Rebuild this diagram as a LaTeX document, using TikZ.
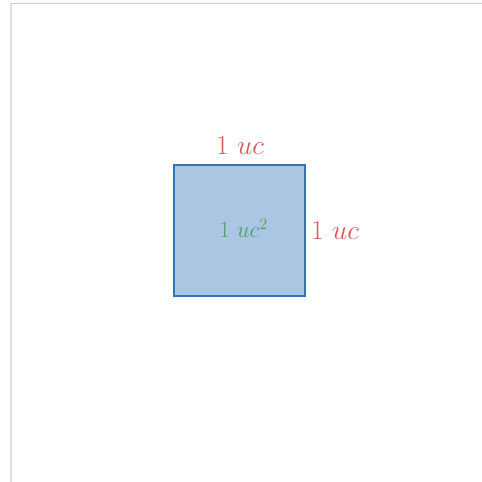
\RequirePackage{fix-cm}
\documentclass[tikz,border=0pt]{standalone}
\usepackage{xcolor}
\usepackage{tikz}
\usetikzlibrary{positioning}
\definecolor{UCBlue}{RGB}{52,115,185}
\definecolor{UCFill}{RGB}{170,198,226}
\definecolor{UCRed}{RGB}{214,88,88}
\definecolor{UCGreen}{RGB}{78,160,98}
\definecolor{UCFrame}{RGB}{205,205,205}

\begin{document}
\begin{tikzpicture}[x=1pt, y=1pt,
      unitsq/.style={rectangle, draw=UCBlue, fill=UCFill, line width=2.5pt,
                     minimum size=130.6pt, inner sep=0pt},
      side/.style={text=UCRed, inner sep=0pt, font=\fontsize{27.5}{33}\selectfont},
      area/.style={text=UCGreen, inner sep=0pt, font=\fontsize{23}{28}\selectfont}
    ]
    \useasboundingbox (0,0) rectangle (482,482);
    \draw[UCFrame, line width=1pt] (10,478) -- (482,478);
    \draw[UCFrame!60, line width=2pt] (11,478) -- (11,0);

    \node[unitsq] (sq) at (239.5,251.5) {};

    \node[side, anchor=base]      (top)   at (240,327) {$1\ uc$};
    \node[side, anchor=base west] (right) at (311,242) {$1\ uc$};
    \node[area, anchor=base]      (mid)   at (243.5,244) {$1\ uc^2$};
  \end{tikzpicture}
\end{document}
